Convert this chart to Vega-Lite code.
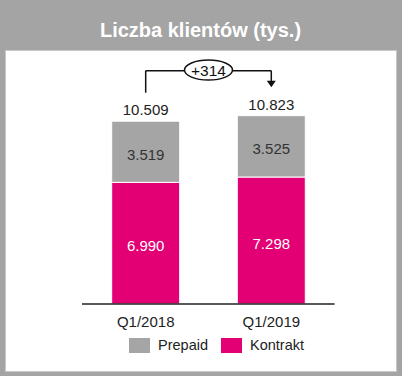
{
  "$schema": "https://vega.github.io/schema/vega-lite/v6.json",
  "width": 391,
  "height": 321,
  "autosize": "none",
  "padding": {"left": 5, "top": 50, "right": 6, "bottom": 5},
  "background": "#a4a4a4",
  "view": {"fill": "white", "stroke": "#c8c8c8"},
  "title": {
    "text": "Liczba klientów (tys.)",
    "color": "white",
    "font": "Liberation Sans",
    "fontSize": 20,
    "fontWeight": "bold",
    "anchor": "middle",
    "frame": "group",
    "baseline": "alphabetic",
    "offset": -7
  },
  "config": {
    "locale": {"number": {"decimal": ",", "thousands": ".", "grouping": [3], "currency": ["", " zł"]}},
    "font": "Liberation Sans"
  },
  "data": {
    "values": [
      {"quarter": "Q1/2018", "series": "Kontrakt", "value": 6990},
      {"quarter": "Q1/2018", "series": "Prepaid", "value": 3519},
      {"quarter": "Q1/2019", "series": "Kontrakt", "value": 7298},
      {"quarter": "Q1/2019", "series": "Prepaid", "value": 3525}
    ]
  },
  "encoding": {
    "x": {
      "field": "quarter",
      "type": "nominal",
      "sort": ["Q1/2018", "Q1/2019"],
      "scale": {"paddingInner": 0.4586, "paddingOuter": 0.7858, "align": 0.5405},
      "axis": {
        "title": null,
        "orient": "bottom",
        "offset": -67,
        "domain": false,
        "ticks": false,
        "labelAngle": 0,
        "labelPadding": 10,
        "labelFontSize": 15,
        "labelColor": "#222",
        "labelFont": "Liberation Sans"
      }
    }
  },
  "layer": [
    {
      "transform": [
        {"stack": "value", "groupby": ["quarter"], "sort": [{"field": "series", "order": "ascending"}], "as": ["v0", "v1"]}
      ],
      "mark": {"type": "bar", "stroke": "white", "strokeWidth": 1},
      "encoding": {
        "y": {"field": "v0", "type": "quantitative", "scale": {"domain": [-3851, 14598], "nice": false, "zero": false}, "axis": null},
        "y2": {"field": "v1"},
        "color": {
          "field": "series",
          "type": "nominal",
          "scale": {"domain": ["Prepaid", "Kontrakt"], "range": ["#a5a5a5", "#e20074"]},
          "legend": {
            "title": null,
            "orient": "none",
            "direction": "horizontal",
            "legendX": 127,
            "legendY": 288,
            "padding": 0,
            "symbolType": "M-1.4,-1H1.4V1H-1.4Z",
            "symbolSize": 225,
            "symbolStrokeWidth": 0,
            "symbolOpacity": 1,
            "labelOffset": 11,
            "columnPadding": 13,
            "labelFontSize": 14.5,
            "labelFont": "Liberation Sans",
            "labelColor": "#222"
          }
        }
      }
    },
    {
      "transform": [
        {"stack": "value", "groupby": ["quarter"], "sort": [{"field": "series", "order": "ascending"}], "as": ["v0", "v1"]},
        {"calculate": "(datum.v0 + datum.v1) / 2", "as": "mid"}
      ],
      "mark": {"type": "text", "fontSize": 15, "baseline": "middle", "dy": 3},
      "encoding": {
        "y": {"field": "mid", "type": "quantitative"},
        "text": {"field": "value", "type": "quantitative", "format": ",d"},
        "color": {"condition": {"test": "datum.series === 'Kontrakt'", "value": "white"}, "value": "#333"}
      }
    },
    {
      "transform": [
        {"aggregate": [{"op": "sum", "field": "value", "as": "total"}], "groupby": ["quarter"]}
      ],
      "mark": {"type": "text", "fontSize": 15, "baseline": "alphabetic", "dy": -6, "color": "#222"},
      "encoding": {
        "y": {"field": "total", "type": "quantitative"},
        "text": {"field": "total", "type": "quantitative", "format": ",d"}
      }
    },
    {
      "data": {"values": [{"label": "+314"}]},
      "layer": [
        {
          "mark": {"type": "rule", "color": "#222", "strokeWidth": 1.5},
          "encoding": {
            "x": {"datum": "Q1/2018", "type": "nominal", "bandPosition": -0.437},
            "x2": {"datum": "Q1/2019", "bandPosition": 1.431},
            "y": {"datum": 0, "type": "quantitative"}
          }
        },
        {
          "mark": {"type": "rule", "color": "#111", "strokeWidth": 1.5},
          "encoding": {
            "x": {"datum": "Q1/2018", "type": "nominal", "bandPosition": 0.5},
            "x2": {"datum": "Q1/2019", "bandPosition": 0.5},
            "y": {"datum": 13408, "type": "quantitative"}
          }
        },
        {
          "mark": {"type": "rule", "color": "#111", "strokeWidth": 1.5},
          "encoding": {
            "x": {"datum": "Q1/2018", "type": "nominal", "bandPosition": 0.5},
            "y": {"datum": 12144, "type": "quantitative"},
            "y2": {"datum": 13408}
          }
        },
        {
          "mark": {"type": "rule", "color": "#111", "strokeWidth": 1.5},
          "encoding": {
            "x": {"datum": "Q1/2019", "type": "nominal", "bandPosition": 0.5},
            "y": {"datum": 12816, "type": "quantitative"},
            "y2": {"datum": 13408}
          }
        },
        {
          "mark": {"type": "point", "shape": "M-1,-0.7L1,-0.7L0,0.7Z", "size": 81, "filled": true, "color": "#111", "opacity": 1},
          "encoding": {
            "x": {"datum": "Q1/2019", "type": "nominal", "bandPosition": 0.5},
            "y": {"datum": 12644, "type": "quantitative"}
          }
        },
        {
          "mark": {"type": "point", "shape": "M-2.4,0A2.4,1,0,1,1,2.4,0A2.4,1,0,1,1,-2.4,0Z", "size": 400, "filled": false, "fill": "white", "fillOpacity": 1, "stroke": "#111", "strokeWidth": 1.5, "opacity": 1},
          "encoding": {
            "x": {"datum": "Q1/2018", "type": "nominal", "bandPosition": 1.4235},
            "y": {"datum": 13448, "type": "quantitative"}
          }
        },
        {
          "mark": {"type": "text", "fontSize": 15.5, "baseline": "middle", "color": "#111", "dy": 1},
          "encoding": {
            "x": {"datum": "Q1/2018", "type": "nominal", "bandPosition": 1.4235},
            "y": {"datum": 13448, "type": "quantitative"},
            "text": {"field": "label"}
          }
        }
      ]
    }
  ]
}
